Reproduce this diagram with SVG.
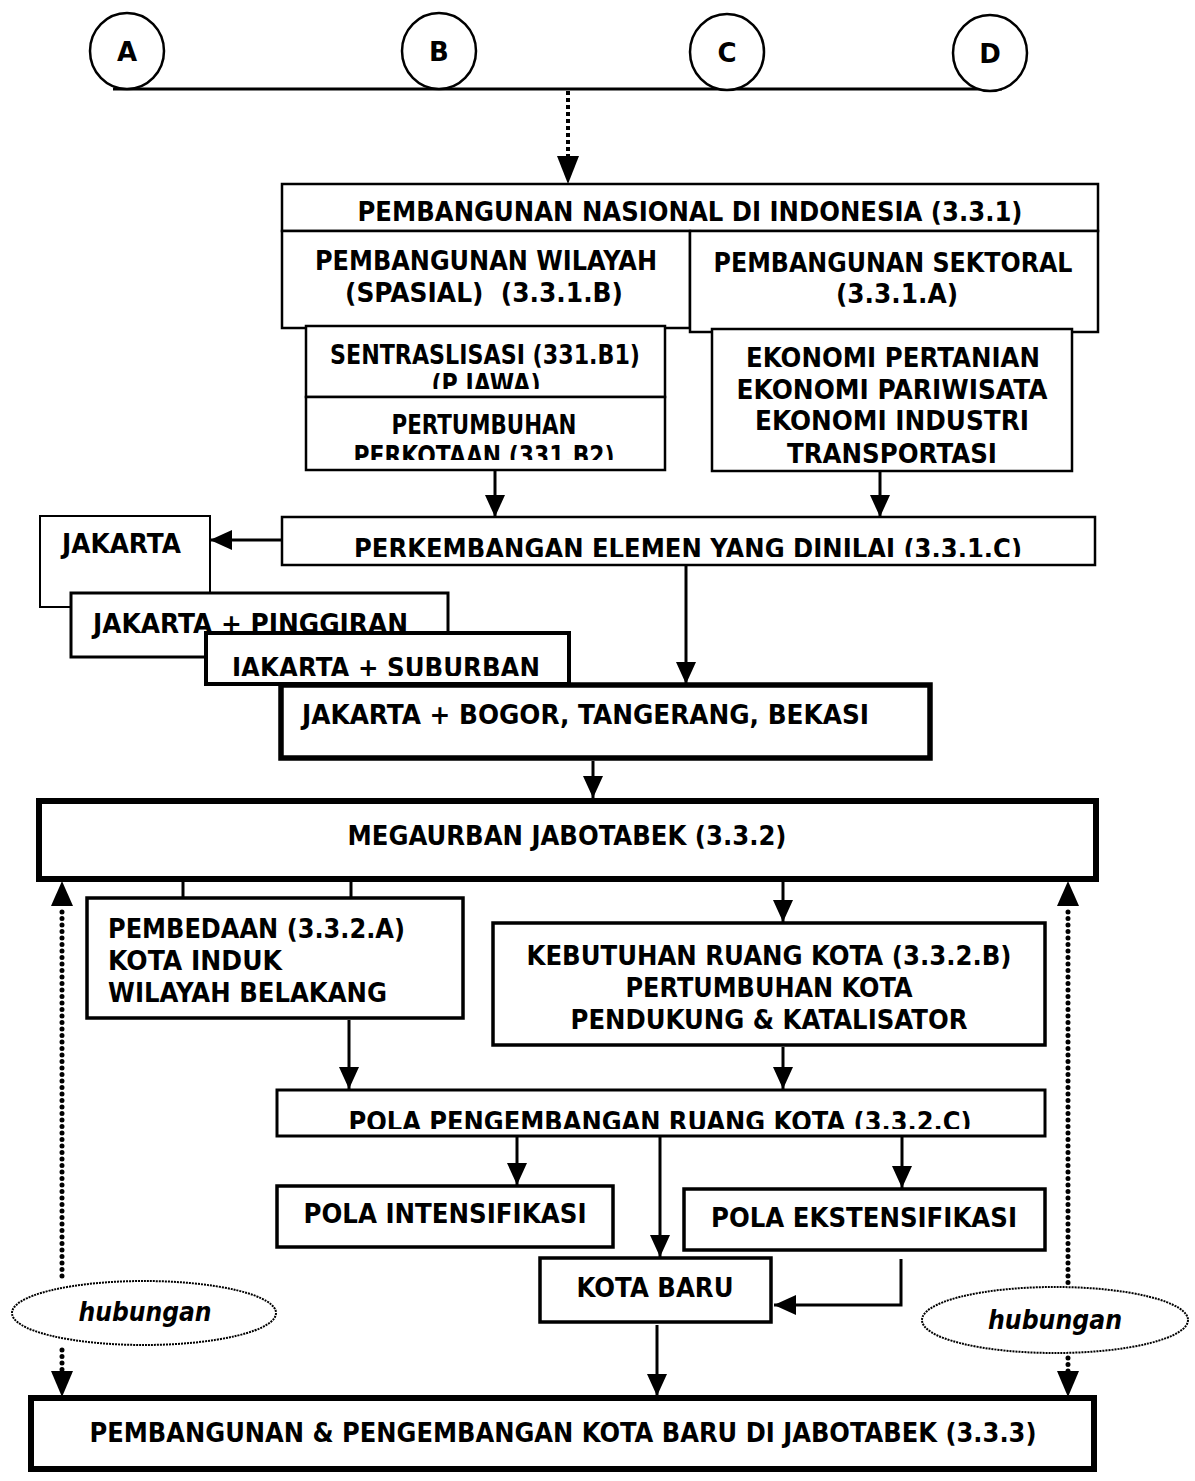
<svg xmlns="http://www.w3.org/2000/svg" width="1195" height="1481" viewBox="0 0 1195 1481">
  <style>
    .bx { fill: #fff; stroke: #000; }
    .t { font-family: "DejaVu Sans", Verdana, sans-serif; font-weight: bold; font-size: 26px; fill: #000; }
    .c { text-anchor: middle; }
    .ln { fill: none; stroke: #000; stroke-width: 3; }
    .dot { fill: none; stroke: #000; stroke-width: 5; stroke-linecap: round; stroke-dasharray: 0 6.5; }
    .hub { fill: #fff; stroke: #000; stroke-width: 2; stroke-dasharray: 2 1; }
    .it { font-family: "DejaVu Sans", Verdana, sans-serif; font-weight: bold; font-style: italic; font-size: 27px; }
  </style>
  <defs>
    <marker id="ah" markerUnits="userSpaceOnUse" markerWidth="22" markerHeight="28" viewBox="0 0 22 28" refX="22" refY="10" orient="auto">
      <path d="M0,0 L22,10 L0,20 Z" fill="#000"/>
    </marker>
    <!-- text windows for labels that run past their box edge -->
    <clipPath id="clipB1"><rect x="308" y="330" width="355" height="59"/></clipPath>
    <clipPath id="clipB2"><rect x="308" y="400" width="355" height="60"/></clipPath>
    <clipPath id="clipA"><rect x="714" y="330" width="356" height="135"/></clipPath>
    <clipPath id="clipC"><rect x="284" y="519" width="809" height="38"/></clipPath>
    <clipPath id="clipSub"><rect x="208" y="634" width="359" height="42"/></clipPath>
    <clipPath id="clipPola"><rect x="279" y="1092" width="764" height="37"/></clipPath>
  </defs>

  <!-- source markers A-D on a common bar -->
  <g id="bar">
    <line x1="113" y1="89" x2="1002" y2="89" stroke="#000" stroke-width="3"/>
  </g>
  <g id="nodeA"><ellipse cx="127" cy="51" rx="37" ry="38" fill="#fff" stroke="#000" stroke-width="2.5"/><text class="t c" x="127" y="61">A</text></g>
  <g id="nodeB"><ellipse cx="439" cy="51" rx="37" ry="38" fill="#fff" stroke="#000" stroke-width="2.5"/><text class="t c" x="439" y="61">B</text></g>
  <g id="nodeC"><ellipse cx="727" cy="52" rx="37" ry="38" fill="#fff" stroke="#000" stroke-width="2.5"/><text class="t c" x="727" y="62">C</text></g>
  <g id="nodeD"><ellipse cx="990" cy="53" rx="37" ry="38" fill="#fff" stroke="#000" stroke-width="2.5"/><text class="t c" x="990" y="63">D</text></g>

  <!-- national development -->
  <g id="nasional">
    <rect class="bx" x="282" y="184" width="816" height="47" stroke-width="2.5"/>
    <text class="t c" x="690" y="221" textLength="665" lengthAdjust="spacingAndGlyphs">PEMBANGUNAN NASIONAL DI INDONESIA (3.3.1)</text>
  </g>
  <g id="wilayah">
    <rect class="bx" x="282" y="231" width="408" height="97" stroke-width="2.5"/>
    <text class="t c" x="486" y="270" textLength="342" lengthAdjust="spacingAndGlyphs">PEMBANGUNAN WILAYAH</text>
    <text class="t c" x="484" y="302" textLength="278" lengthAdjust="spacingAndGlyphs" xml:space="preserve">(SPASIAL)  (3.3.1.B)</text>
  </g>
  <g id="sektoral">
    <rect class="bx" x="690" y="231" width="408" height="101" stroke-width="2.5"/>
    <text class="t c" x="893" y="272" textLength="359" lengthAdjust="spacingAndGlyphs">PEMBANGUNAN SEKTORAL</text>
    <text class="t c" x="897" y="303" textLength="122" lengthAdjust="spacingAndGlyphs">(3.3.1.A)</text>
  </g>
  <g id="sentralisasi">
    <rect class="bx" x="306" y="326" width="359" height="71" stroke-width="2.5"/>
    <g clip-path="url(#clipB1)">
      <text class="t c" x="485" y="364" font-size="23" textLength="310" lengthAdjust="spacingAndGlyphs">SENTRASLISASI (331.B1)</text>
      <text class="t c" x="486" y="393" font-size="23" textLength="109" lengthAdjust="spacingAndGlyphs">(P JAWA)</text>
    </g>
  </g>
  <g id="perkotaan">
    <rect class="bx" x="306" y="397" width="359" height="73" stroke-width="2.5"/>
    <g clip-path="url(#clipB2)">
      <text class="t c" x="484" y="434" font-size="24" textLength="185" lengthAdjust="spacingAndGlyphs">PERTUMBUHAN</text>
      <text class="t c" x="484" y="465" font-size="24" textLength="261" lengthAdjust="spacingAndGlyphs">PERKOTAAN (331.B2)</text>
    </g>
  </g>
  <g id="sektor">
    <rect class="bx" x="712" y="329" width="360" height="142" stroke-width="2.5"/>
    <g clip-path="url(#clipA)">
      <text class="t c" x="893" y="367" textLength="294" lengthAdjust="spacingAndGlyphs">EKONOMI PERTANIAN</text>
      <text class="t c" x="892" y="399" textLength="311" lengthAdjust="spacingAndGlyphs">EKONOMI PARIWISATA</text>
      <text class="t c" x="892" y="430" textLength="274" lengthAdjust="spacingAndGlyphs">EKONOMI INDUSTRI</text>
      <text class="t c" x="892" y="463" textLength="210" lengthAdjust="spacingAndGlyphs">TRANSPORTASI</text>
    </g>
  </g>

  <!-- assessed elements -->
  <g id="elemen">
    <rect class="bx" x="282" y="517" width="813" height="48" stroke-width="2.5"/>
    <g clip-path="url(#clipC)">
      <text class="t c" x="688" y="558" textLength="668" lengthAdjust="spacingAndGlyphs">PERKEMBANGAN ELEMEN YANG DINILAI (3.3.1.C)</text>
    </g>
  </g>

  <!-- Jakarta growth stages -->
  <g id="jakarta">
    <rect class="bx" x="40" y="516" width="170" height="91" stroke-width="2"/>
    <text class="t" x="62" y="553" textLength="119" lengthAdjust="spacingAndGlyphs">JAKARTA</text>
  </g>
  <g id="pinggiran">
    <rect class="bx" x="71" y="593" width="377" height="64" stroke-width="3"/>
    <text class="t" x="93" y="633" textLength="315" lengthAdjust="spacingAndGlyphs">JAKARTA + PINGGIRAN</text>
  </g>
  <g id="suburban">
    <rect class="bx" x="206" y="633" width="363" height="51" stroke-width="4"/>
    <g clip-path="url(#clipSub)">
      <text class="t" x="232" y="677" textLength="308" lengthAdjust="spacingAndGlyphs">JAKARTA + SUBURBAN</text>
    </g>
  </g>
  <g id="jabotabek">
    <rect class="bx" x="281" y="685" width="649" height="73" stroke-width="5.5"/>
    <text class="t" x="302" y="724" textLength="567" lengthAdjust="spacingAndGlyphs">JAKARTA + BOGOR, TANGERANG, BEKASI</text>
  </g>

  <!-- megaurban -->
  <g id="megaurban">
    <rect class="bx" x="39" y="801" width="1057" height="78" stroke-width="6"/>
    <text class="t c" x="567" y="845" textLength="439" lengthAdjust="spacingAndGlyphs">MEGAURBAN JABOTABEK (3.3.2)</text>
  </g>
  <g id="pembedaan">
    <rect class="bx" x="87" y="898" width="376" height="120" stroke-width="3.5"/>
    <text class="t" x="108" y="938" textLength="297" lengthAdjust="spacingAndGlyphs">PEMBEDAAN (3.3.2.A)</text>
    <text class="t" x="108" y="970" textLength="174" lengthAdjust="spacingAndGlyphs">KOTA INDUK</text>
    <text class="t" x="108" y="1002" textLength="279" lengthAdjust="spacingAndGlyphs">WILAYAH BELAKANG</text>
  </g>
  <g id="kebutuhan">
    <rect class="bx" x="493" y="923" width="552" height="122" stroke-width="3.5"/>
    <text class="t c" x="769" y="965" textLength="485" lengthAdjust="spacingAndGlyphs">KEBUTUHAN RUANG KOTA (3.3.2.B)</text>
    <text class="t c" x="769" y="997" textLength="287" lengthAdjust="spacingAndGlyphs">PERTUMBUHAN KOTA</text>
    <text class="t c" x="769" y="1029" textLength="397" lengthAdjust="spacingAndGlyphs">PENDUKUNG &amp; KATALISATOR</text>
  </g>
  <g id="pola">
    <rect class="bx" x="277" y="1090" width="768" height="46" stroke-width="3"/>
    <g clip-path="url(#clipPola)">
      <text class="t c" x="660" y="1131" textLength="623" lengthAdjust="spacingAndGlyphs">POLA PENGEMBANGAN RUANG KOTA (3.3.2.C)</text>
    </g>
  </g>
  <g id="intensifikasi">
    <rect class="bx" x="277" y="1186" width="336" height="61" stroke-width="3.5"/>
    <text class="t c" x="445" y="1223" textLength="283" lengthAdjust="spacingAndGlyphs">POLA INTENSIFIKASI</text>
  </g>
  <g id="ekstensifikasi">
    <rect class="bx" x="684" y="1189" width="361" height="61" stroke-width="3.5"/>
    <text class="t c" x="864" y="1227" textLength="306" lengthAdjust="spacingAndGlyphs">POLA EKSTENSIFIKASI</text>
  </g>
  <g id="kotabaru">
    <rect class="bx" x="540" y="1258" width="231" height="64" stroke-width="3.5"/>
    <text class="t c" x="655" y="1297" textLength="157" lengthAdjust="spacingAndGlyphs">KOTA BARU</text>
  </g>
  <g id="kotabaruJabotabek">
    <rect class="bx" x="31" y="1398" width="1063" height="71" stroke-width="6"/>
    <text class="t c" x="563" y="1442" textLength="947" lengthAdjust="spacingAndGlyphs">PEMBANGUNAN &amp; PENGEMBANGAN KOTA BARU DI JABOTABEK (3.3.3)</text>
  </g>

  <!-- relation ellipses -->
  <g id="hubunganL">
    <ellipse class="hub" cx="144" cy="1313" rx="132" ry="32"/>
    <text class="it c" x="145" y="1321" textLength="133" lengthAdjust="spacingAndGlyphs">hubungan</text>
  </g>
  <g id="hubunganR">
    <ellipse class="hub" cx="1055" cy="1320" rx="133" ry="33"/>
    <text class="it c" x="1055" y="1329" textLength="134" lengthAdjust="spacingAndGlyphs">hubungan</text>
  </g>

  <!-- connectors -->
  <g id="connectors">
    <line x1="568" y1="91" x2="568" y2="158" stroke="#000" stroke-width="4" stroke-dasharray="4 3"/>
    <path d="M557,156 L579,156 L568,184 Z" fill="#000"/>

    <line class="ln" x1="495" y1="471" x2="495" y2="517" marker-end="url(#ah)"/>
    <line class="ln" x1="880" y1="472" x2="880" y2="517" marker-end="url(#ah)"/>
    <line class="ln" x1="282" y1="540" x2="210" y2="540" marker-end="url(#ah)"/>
    <line class="ln" x1="686" y1="566" x2="686" y2="684" marker-end="url(#ah)"/>
    <line class="ln" x1="593" y1="761" x2="593" y2="798" marker-end="url(#ah)"/>

    <line class="ln" x1="183" y1="882" x2="183" y2="897"/>
    <line class="ln" x1="351" y1="882" x2="351" y2="897"/>
    <line class="ln" x1="783" y1="882" x2="783" y2="922" marker-end="url(#ah)"/>
    <line class="ln" x1="349" y1="1020" x2="349" y2="1089" marker-end="url(#ah)"/>
    <line class="ln" x1="783" y1="1047" x2="783" y2="1089" marker-end="url(#ah)"/>

    <line class="ln" x1="517" y1="1137" x2="517" y2="1185" marker-end="url(#ah)"/>
    <line class="ln" x1="902" y1="1137" x2="902" y2="1188" marker-end="url(#ah)"/>
    <line class="ln" x1="660" y1="1137" x2="660" y2="1257" marker-end="url(#ah)"/>
    <polyline class="ln" points="901,1259 901,1305 774,1305" marker-end="url(#ah)"/>
    <line class="ln" x1="657" y1="1325" x2="657" y2="1396" marker-end="url(#ah)"/>

    <!-- dotted relations, left -->
    <path d="M62,881 L73,906 L51,906 Z" fill="#000"/>
    <line class="dot" x1="62" y1="912" x2="62" y2="1280"/>
    <line class="dot" x1="62" y1="1350" x2="62" y2="1372"/>
    <path d="M51,1371 L73,1371 L62,1397 Z" fill="#000"/>
    <!-- dotted relations, right -->
    <path d="M1068,881 L1079,906 L1057,906 Z" fill="#000"/>
    <line class="dot" x1="1068" y1="912" x2="1068" y2="1286"/>
    <line class="dot" x1="1068" y1="1358" x2="1068" y2="1372"/>
    <path d="M1057,1371 L1079,1371 L1068,1397 Z" fill="#000"/>
  </g>
</svg>
